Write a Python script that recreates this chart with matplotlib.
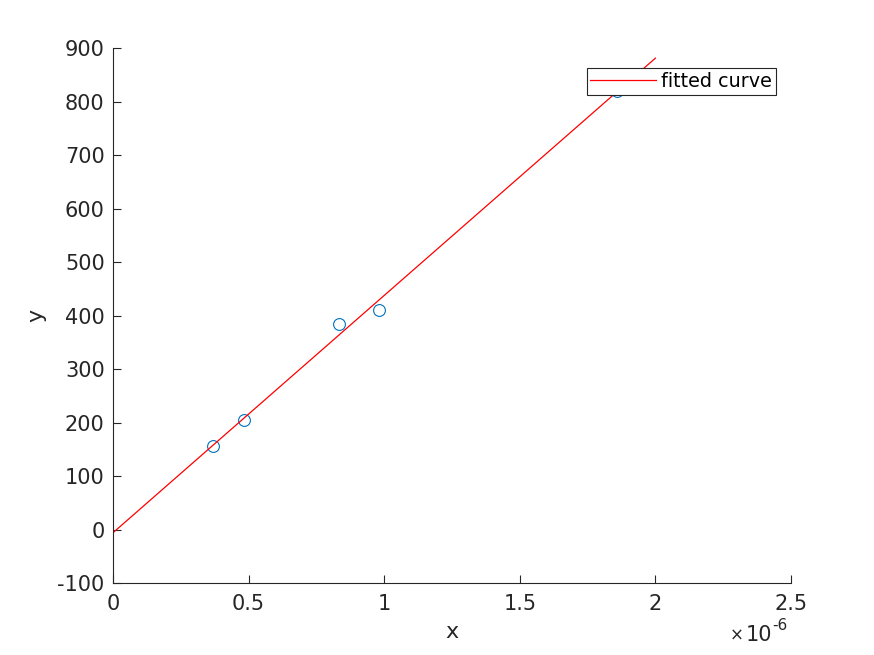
import numpy as np
import matplotlib
matplotlib.use("Agg")
import matplotlib.pyplot as plt
from matplotlib.ticker import FuncFormatter

plt.rcParams['font.family'] = 'DejaVu Sans'
plt.rcParams['axes.unicode_minus'] = False

# measured points
x_data = [0.369e-6, 0.483e-6, 0.833e-6, 0.981e-6, 1.858e-6]
y_data = [156, 205, 384, 410, 820]

# fitted line y = p1*x + p2, drawn over 0..2e-6
p1 = 4.435e8
p2 = -6.0
fit_x = [0.0, 2.0e-6]

fig = plt.figure(figsize=(8.74, 6.55), dpi=100)
ax = fig.add_axes([0.1293, 0.1099, 0.7757, 0.8168])

dark = '#262626'
ax.plot(x_data, y_data, 'o', mfc='none', mec='#0072BD', ms=8.5, mew=0.8)
fx = np.array(fit_x)
ax.plot(fx, p1 * fx + p2, '-', color='red', lw=0.9, label='fitted curve')

ax.set_xlim(0, 2.5e-6)
ax.set_ylim(-100, 900)
ax.set_xticks(np.arange(0, 2.51e-6, 0.5e-6))
ax.set_yticks(np.arange(-100, 901, 100))
ax.xaxis.set_major_formatter(FuncFormatter(lambda v, p: '%g' % round(v * 1e6, 3)))

for s in ['top', 'right']:
    ax.spines[s].set_visible(False)
for s in ['left', 'bottom']:
    ax.spines[s].set_color(dark)
    ax.spines[s].set_linewidth(0.8)
ax.tick_params(direction='in', length=6, width=0.8, colors=dark, labelsize=15)
ax.tick_params(axis='x', pad=8)
ax.tick_params(axis='y', pad=6)

ax.set_xlabel('x', fontsize=16, color=dark, labelpad=6)
ax.set_ylabel('y', fontsize=16, color=dark, labelpad=8)
# exponent label, drawn as plain text so the minus stays a hyphen
fig.text(0.851, 0.016, '\u00d7', ha='right', va='bottom', fontsize=12, color=dark)
fig.text(0.853, 0.016, '10', ha='left', va='bottom', fontsize=15, color=dark)
fig.text(0.884, 0.033, '-6', ha='left', va='bottom', fontsize=11, color=dark)

leg = ax.legend(loc='upper right', bbox_to_anchor=(0.8879, 0.8962),
                bbox_transform=fig.transFigure, fontsize=13.8, frameon=True,
                fancybox=False, framealpha=1, edgecolor='#262626',
                handlelength=3.4, borderpad=0.2, borderaxespad=0, handletextpad=0.3)
leg.get_frame().set_linewidth(0.8)

fig.savefig('out.png', dpi=100)
